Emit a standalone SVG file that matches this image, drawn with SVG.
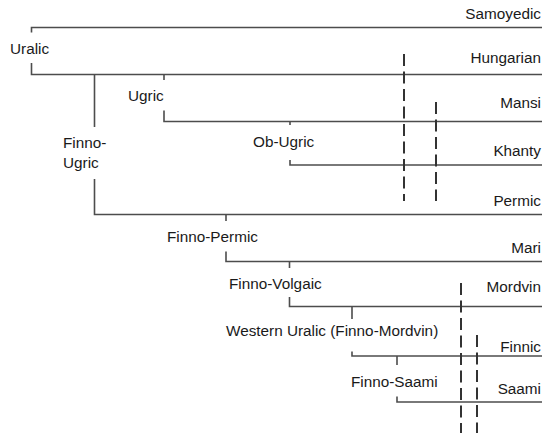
<svg xmlns="http://www.w3.org/2000/svg" width="546" height="433" viewBox="0 0 546 433">
<style>
text{font-family:"Liberation Sans",Arial,sans-serif;font-size:15.3px;fill:#1a1a1a}
.r{text-anchor:end}
.ln{fill:none;stroke:#4d4d4d;stroke-width:1.6}
.dash{fill:none;stroke:#333;stroke-width:2;stroke-dasharray:12 5.5}
</style>
<rect width="546" height="433" fill="#fff"/>
<g id="connectors">
<path class="ln" d="M31.5 32.5V27.5H542"/>
<path class="ln" d="M31.5 63V74.5H542"/>
<path class="ln" d="M94.5 74.5V127M94.5 179V214.5H542"/>
<path class="ln" d="M164 74.5V80M164 110.5V121.5H542"/>
<path class="ln" d="M290 121.5V125M290 160V165H542"/>
<path class="ln" d="M226 214.5V221M226 251.5V261.5H542"/>
<path class="ln" d="M289.5 261.5V268M289.5 297V306.5H542"/>
<path class="ln" d="M352 306.5V319M352 351.5V356H542"/>
<path class="ln" d="M397 356V365M397 396.5V402H542"/>
<path class="dash" d="M404 54V201"/>
<path class="dash" d="M436 102V201"/>
<path class="dash" d="M461 283V433"/>
<path class="dash" d="M477 335V433"/>
</g>
<g id="uralic"><text x="10" y="54">Uralic</text></g>
<g id="finno-ugric"><text x="63" y="148">Finno-</text><text x="63" y="168">Ugric</text></g>
<g id="ugric"><text x="128" y="101">Ugric</text></g>
<g id="ob-ugric"><text x="253" y="147">Ob-Ugric</text></g>
<g id="finno-permic"><text x="167" y="242">Finno-Permic</text></g>
<g id="finno-volgaic"><text x="229" y="289">Finno-Volgaic</text></g>
<g id="western-uralic"><text x="226" y="336">Western Uralic (Finno-Mordvin)</text></g>
<g id="finno-saami"><text x="351" y="387">Finno-Saami</text></g>
<g id="samoyedic"><text class="r" x="541" y="19">Samoyedic</text></g>
<g id="hungarian"><text class="r" x="541" y="63">Hungarian</text></g>
<g id="mansi"><text class="r" x="541" y="107.5">Mansi</text></g>
<g id="khanty"><text class="r" x="541" y="156">Khanty</text></g>
<g id="permic"><text class="r" x="541" y="206">Permic</text></g>
<g id="mari"><text class="r" x="541" y="253">Mari</text></g>
<g id="mordvin"><text class="r" x="541" y="292">Mordvin</text></g>
<g id="finnic"><text class="r" x="541" y="352">Finnic</text></g>
<g id="saami"><text class="r" x="541" y="394">Saami</text></g>
</svg>
